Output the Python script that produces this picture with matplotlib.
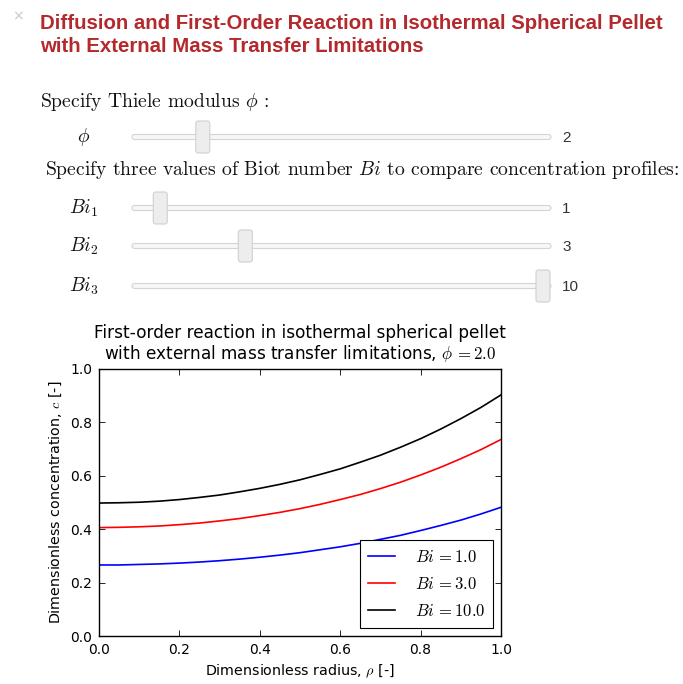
import numpy as np
import matplotlib
matplotlib.use("Agg")
import matplotlib.pyplot as plt
from matplotlib.patches import FancyBboxPatch

plt.rcParams["mathtext.fontset"] = "cm"

# slider settings shown in the widget panel
phi = 2.0
bi_values = [1.0, 3.0, 10.0]
slider_min, slider_max = 0.5, 10.0

# concentration profiles
rho = [0.0, 0.05, 0.1, 0.15, 0.2, 0.25, 0.3, 0.35, 0.4, 0.45, 0.5,
       0.55, 0.6, 0.65, 0.7, 0.75, 0.8, 0.85, 0.9, 0.95, 1.0]
c_bi1 = [0.266, 0.266, 0.268, 0.270, 0.273, 0.277, 0.282, 0.288, 0.295, 0.303, 0.312,
         0.323, 0.334, 0.347, 0.362, 0.377, 0.395, 0.414, 0.434, 0.457, 0.482]
c_bi3 = [0.406, 0.407, 0.409, 0.412, 0.417, 0.423, 0.431, 0.440, 0.451, 0.463, 0.477,
         0.493, 0.511, 0.530, 0.552, 0.576, 0.603, 0.632, 0.664, 0.698, 0.736]
c_bi10 = [0.498, 0.499, 0.501, 0.505, 0.511, 0.519, 0.528, 0.540, 0.553, 0.568, 0.585,
          0.605, 0.626, 0.651, 0.677, 0.707, 0.739, 0.775, 0.814, 0.856, 0.903]

W, H = 683, 684
fig = plt.figure(figsize=(W / 100, H / 100), dpi=100)
fig.patch.set_facecolor("white")

# overlay in pixel coords for the widget part
ui = fig.add_axes([0, 0, 1, 1])
ui.set_xlim(0, W)
ui.set_ylim(H, 0)
ui.axis("off")

red = "#b3292c"
ui.text(18, 16, "\u00d7", color="#c8c8c8", fontsize=10, ha="center", va="center")
ui.text(40, 29, "Diffusion and First-Order Reaction in Isothermal Spherical Pellet",
        color=red, fontsize=14.7, fontweight="bold", family="Liberation Sans", va="baseline")
ui.text(40, 52, "with External Mass Transfer Limitations",
        color=red, fontsize=14.7, fontweight="bold", family="Liberation Sans", va="baseline")

serif = dict(family="cmr10", fontsize=14.1, color="#111111", va="center")
ui.text(40, 102, r"Specify Thiele modulus $\phi$ :", **serif)
ui.text(45, 170, r"Specify three values of Biot number $Bi$ to compare concentration profiles:", **serif)

track_x0, track_x1 = 132, 551
rows = [(137, r"$\phi$", phi, "2"),
        (208, r"$Bi_1$", bi_values[0], "1"),
        (246, r"$Bi_2$", bi_values[1], "3"),
        (286, r"$Bi_3$", bi_values[2], "10")]
for y, lab, val, txt in rows:
    ui.text(84, y, lab, fontsize=14, ha="center", va="center", color="#111111")
    ui.add_patch(FancyBboxPatch((track_x0, y - 2.5), track_x1 - track_x0, 5,
                                boxstyle="round,pad=0,rounding_size=2.5",
                                fc="#f7f7f7", ec="#d4d4d4", lw=0.8))
    frac = (val - slider_min) / (slider_max - slider_min)
    hx = track_x0 + 7 + frac * (track_x1 - track_x0 - 15)
    ui.add_patch(FancyBboxPatch((hx - 7, y - 16), 14, 32,
                                boxstyle="round,pad=0,rounding_size=2.5",
                                fc="#ededed", ec="#d0d0d0", lw=0.8))
    ui.text(562, y + 1, txt, fontsize=11, family="Liberation Sans", color="#333333",
            ha="left", va="center")

# the plot itself
ax = fig.add_axes([99 / W, 1 - 636 / H, 402 / W, 267 / H])
ax.plot(rho, c_bi1, color="b", lw=1.2, label=r"$Bi\,{=}%.1f$" % bi_values[0])
ax.plot(rho, c_bi3, color="r", lw=1.2, label=r"$Bi\,{=}%.1f$" % bi_values[1])
ax.plot(rho, c_bi10, color="k", lw=1.2, label=r"$Bi\,{=}%.1f$" % bi_values[2])
ax.set_xlim(0, 1)
ax.set_ylim(0, 1)
ax.set_xticks(np.arange(0, 1.01, 0.2))
ax.set_yticks(np.arange(0, 1.01, 0.2))
ax.tick_params(direction="in", top=True, right=True, length=4, width=0.6,
               labelsize=10, pad=5)
for sp in ax.spines.values():
    sp.set_linewidth(1.0)
ax.set_xlabel(r"Dimensionless radius, $\rho$ [-]", fontsize=10.3)
ax.set_ylabel(r"Dimensionless concentration, $c$ [-]", fontsize=10.3)
ax.set_title("First-order reaction in isothermal spherical pellet\n"
             r"with external mass transfer limitations, $\phi\,{=}%.1f$" % phi,
             fontsize=12.2, pad=7, linespacing=1.1)
leg = ax.legend(loc="lower right", fontsize=12, fancybox=False, framealpha=1,
                edgecolor="k", handlelength=1.6, handletextpad=1.2, borderpad=0.45,
                labelspacing=0.55, borderaxespad=0.5)
leg.get_frame().set_linewidth(0.8)

fig.savefig("out.png", dpi=100)
